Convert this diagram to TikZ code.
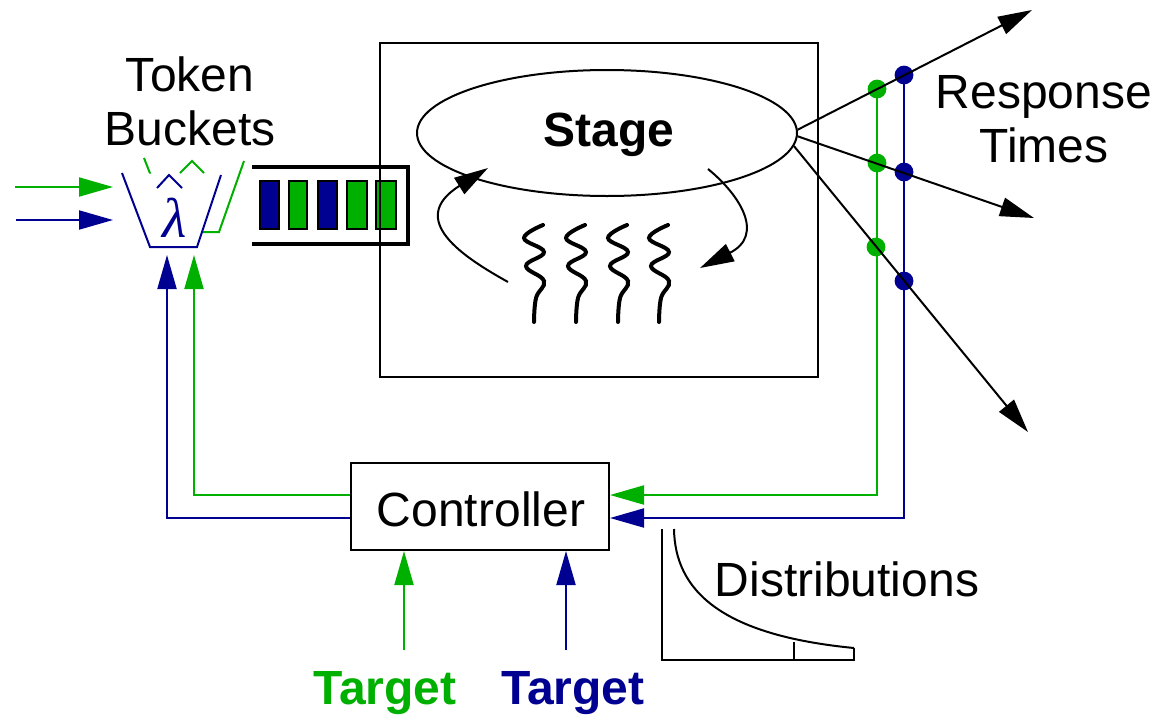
\documentclass[tikz,border=0pt]{standalone}
\usepackage{fontspec}
\setmainfont{Liberation Sans}
\newfontfamily\greekfont{Liberation Serif}
\usetikzlibrary{arrows.meta,shapes.geometric}
\definecolor{tokgreen}{RGB}{0,176,0}
\definecolor{tokblue}{RGB}{0,0,145}

\begin{document}
\begin{tikzpicture}[x=0.5pt,y=-0.5pt,
  lbl/.style={font=\fontsize{24}{27}\selectfont,inner sep=0pt},
  wire/.style={line width=1pt},
  tip/.style={-{Triangle[length=17pt,width=9.5pt]}},
  thread/.style={line width=2pt,line cap=round},
  cell/.style={line width=1pt,draw=black}]
  \useasboundingbox (0,0) rectangle (1161,718);
  \node[lbl,align=center] (tokens) at (190,101) {Token\\Buckets};
  \node[lbl,align=center] (resp) at (1044,119) {Response\\Times};
  \node[lbl] (dist) at (847,579) {Distributions};
  \node[lbl,font=\fontsize{24}{27}\selectfont\bfseries,text=tokgreen] (tgtG) at (385,693) {Target};
  \node[lbl,font=\fontsize{24}{27}\selectfont\bfseries,text=tokblue] (tgtB) at (573,693) {Target};
  \draw[line width=1pt] (380,43) rectangle (818,377);
  \node[draw,ellipse,line width=1pt,minimum width=190pt,minimum height=63pt,inner sep=0pt] (stage) at (607,133) {};
  \node[lbl,font=\fontsize{24}{27}\selectfont\bfseries] (stagetxt) at (609,135) {Stage};
  \node[draw,line width=1pt,minimum width=129pt,minimum height=43.5pt,inner sep=0pt] (ctrl) at (480,506.5) {};
  \node[lbl] (ctrltxt) at (481,509) {Controller};
  \draw[line width=2.3pt] (252,167) -- (408,167) -- (408,244) -- (252,244);
  \draw[cell,fill=tokblue] (260,181) rectangle (279,229);
  \draw[cell,fill=tokgreen] (289,181) rectangle (307,229);
  \draw[cell,fill=tokblue] (318,181) rectangle (337,229);
  \draw[cell,fill=tokgreen] (347,181) rectangle (367,229);
  \draw[cell,fill=tokgreen] (376,181) rectangle (396,229);
  \draw[line width=1pt] (380,160) -- (380,250);
  \draw[wire,tokgreen] (144,158) -- (173,232) -- (219,232) -- (244,161);
  \draw[wire,tokgreen] (180,173) -- (192,161) -- (204,173);
  \fill[white] (122,173) -- (150,247) -- (197,247) -- (221,175) -- cycle;
  \draw[wire,tokblue] (122,173) -- (150,247) -- (197,247) -- (221,175);
  \draw[wire,tokblue] (157,188) -- (169,175) -- (182,188);
  \node[font=\fontsize{28}{30}\selectfont\greekfont\itshape,text=tokblue,inner sep=0pt] (lam) at (175,218) {λ};
  \coordinate (inG) at (15,187);
  \coordinate (inB) at (16,220);
  \draw[wire,tokgreen,tip] (inG) -- (113,187);
  \draw[wire,tokblue,tip] (inB) -- (113,220);
  \coordinate (bktG) at (194,255);
  \coordinate (bktB) at (167,255);
  \draw[wire,tokgreen,tip] ([yshift=5.75pt]ctrl.west) -| (bktG);
  \draw[wire,tokblue,tip] ([yshift=-5.75pt]ctrl.west) -| (bktB);
  \draw[thread] plot[smooth,tension=0.7] coordinates {(543,225) (524,238) (544,252) (526,266) (544,281) (536,298) (534,322)};
  \draw[thread,xshift=21pt] plot[smooth,tension=0.7] coordinates {(543,225) (524,238) (544,252) (526,266) (544,281) (536,298) (534,322)};
  \draw[thread,xshift=42pt] plot[smooth,tension=0.7] coordinates {(543,225) (524,238) (544,252) (526,266) (544,281) (536,298) (534,322)};
  \draw[thread,xshift=62.5pt] plot[smooth,tension=0.7] coordinates {(543,225) (524,238) (544,252) (526,266) (544,281) (536,298) (534,322)};
  \draw[wire,tip] (508,282) .. controls (465,258) and (405,220) .. (488,168);
  \draw[wire,tip] (708,169) .. controls (740,195) and (765,235) .. (700,268);
  \coordinate (gtop) at (877,89);
  \coordinate (btop) at (904,74);
  \draw[wire,tokgreen,tip] (gtop) |- ([yshift=5.75pt]ctrl.east);
  \draw[wire,tokblue,tip] (btop) |- ([yshift=-5.75pt]ctrl.east);
  \fill[tokgreen] (877,89) circle (4.7pt);
  \fill[tokgreen] (877,163) circle (4.7pt);
  \fill[tokgreen] (876,247) circle (4.7pt);
  \fill[tokblue] (904,75) circle (4.7pt);
  \fill[tokblue] (904,172) circle (4.7pt);
  \fill[tokblue] (904,281) circle (4.7pt);
  \coordinate (rt1) at (1032,10);
  \coordinate (rt2) at (1034,218);
  \coordinate (rt3) at (1028,432);
  \draw[wire,tip] (stage.1) -- (rt1);
  \draw[wire,tip] (stage.-1) -- (rt2);
  \draw[wire,tip] (stage.-4) -- (rt3);
  \coordinate (gin) at (404,650);
  \coordinate (bin) at (566,650);
  \draw[wire,tokgreen,tip] (gin) -- (gin |- ctrl.south);
  \draw[wire,tokblue,tip] (bin) -- (bin |- ctrl.south);
  \draw[wire] (662,529) -- (662,660) -- (854,660) -- (854,648);
  \draw[wire] (674,529) .. controls (675,590) and (720,635) .. (854,648);
  \draw[wire] (794,660) -- (794,642);
\end{tikzpicture}
\end{document}
